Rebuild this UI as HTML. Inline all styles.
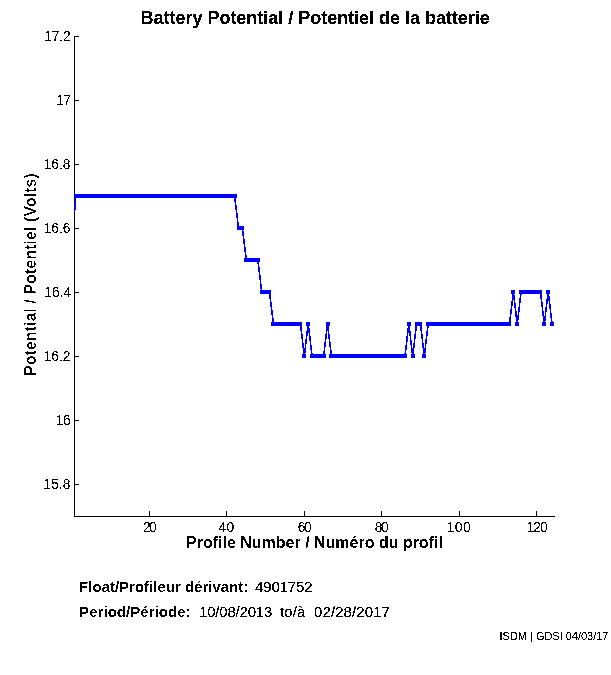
<!DOCTYPE html>
<html lang="en"><head><meta charset="utf-8"><title>Battery Potential / Potentiel de la batterie</title>
<style>
html,body{margin:0;padding:0;background:#fff;}
body{width:611px;height:675px;overflow:hidden;}
svg{display:block;font-family:"Liberation Sans",Arial,Helvetica,sans-serif;fill:#000;}
.b{font-weight:bold;}
.t{font-size:15px;}
.k{font-size:13.8px;}
.f{font-size:11px;}
.l{font-size:16px;font-weight:bold;}
.tt{font-size:18px;font-weight:bold;}
</style></head><body>
<svg width="611" height="675" viewBox="0 0 611 675">
<defs>
<filter id="c40" x="-5%" y="-20%" width="110%" height="140%" color-interpolation-filters="sRGB"><feComponentTransfer><feFuncA type="discrete" tableValues="0 0 0 0 0 0 0 0 1 1 1 1 1 1 1 1 1 1 1 1"/></feComponentTransfer></filter>
<filter id="c45" x="-5%" y="-20%" width="110%" height="140%" color-interpolation-filters="sRGB"><feComponentTransfer><feFuncA type="discrete" tableValues="0 0 0 0 0 0 0 0 0 1 1 1 1 1 1 1 1 1 1 1"/></feComponentTransfer></filter>
<filter id="c50" x="-5%" y="-20%" width="110%" height="140%" color-interpolation-filters="sRGB"><feComponentTransfer><feFuncA type="discrete" tableValues="0 0 0 0 0 0 0 0 0 0 1 1 1 1 1 1 1 1 1 1"/></feComponentTransfer></filter>
<filter id="c60" x="-5%" y="-20%" width="110%" height="140%" color-interpolation-filters="sRGB"><feComponentTransfer><feFuncA type="discrete" tableValues="0 0 0 0 0 0 0 0 0 0 0 0 1 1 1 1 1 1 1 1"/></feComponentTransfer></filter>
</defs>
<rect width="611" height="675" fill="#fff"/>
<text filter="url(#c40)" class="tt" x="140.60" y="23.9" textLength="349.19" lengthAdjust="spacing">Battery Potential / Potentiel de la batterie</text>
<g shape-rendering="crispEdges" fill="#000"><rect x="74" y="36" width="1" height="481"/><rect x="74" y="516" width="481" height="1"/><rect x="75" y="36" width="4" height="1"/><rect x="75" y="100" width="4" height="1"/><rect x="75" y="164" width="4" height="1"/><rect x="75" y="228" width="4" height="1"/><rect x="75" y="292" width="4" height="1"/><rect x="75" y="356" width="4" height="1"/><rect x="75" y="420" width="4" height="1"/><rect x="75" y="484" width="4" height="1"/><rect x="149" y="511" width="1" height="5"/><rect x="226" y="511" width="1" height="5"/><rect x="304" y="511" width="1" height="5"/><rect x="381" y="511" width="1" height="5"/><rect x="459" y="511" width="1" height="5"/><rect x="536" y="511" width="1" height="5"/></g>
<text filter="url(#c45)" class="k" x="44.26" y="41.0" textLength="26.50" lengthAdjust="spacing">17.2</text>
<text filter="url(#c45)" class="k" x="56.27" y="105.0" textLength="14.64" lengthAdjust="spacing">17</text>
<text filter="url(#c45)" class="k" x="43.65" y="169.0" textLength="26.86" lengthAdjust="spacing">16.8</text>
<text filter="url(#c45)" class="k" x="43.65" y="233.0" textLength="26.86" lengthAdjust="spacing">16.6</text>
<text filter="url(#c45)" class="k" x="44.25" y="297.0" textLength="26.86" lengthAdjust="spacing">16.4</text>
<text filter="url(#c45)" class="k" x="43.65" y="361.0" textLength="26.86" lengthAdjust="spacing">16.2</text>
<text filter="url(#c45)" class="k" x="55.63" y="425.0" textLength="15.18" lengthAdjust="spacing">16</text>
<text filter="url(#c45)" class="k" x="43.19" y="489.0" textLength="27.22" lengthAdjust="spacing">15.8</text>
<text filter="url(#c45)" class="k" x="142.99" y="532.0" textLength="13.74" lengthAdjust="spacing">20</text>
<text filter="url(#c45)" class="k" x="218.39" y="532.0" textLength="15.90" lengthAdjust="spacing">40</text>
<text filter="url(#c45)" class="k" x="297.84" y="532.0" textLength="13.74" lengthAdjust="spacing">60</text>
<text filter="url(#c45)" class="k" x="374.85" y="532.0" textLength="13.74" lengthAdjust="spacing">80</text>
<text filter="url(#c45)" class="k" x="446.82" y="532.0" textLength="23.75" lengthAdjust="spacing">100</text>
<text filter="url(#c45)" class="k" x="526.44" y="532.0" textLength="21.23" lengthAdjust="spacing">120</text>
<g shape-rendering="crispEdges"><polyline fill="none" stroke="#0000ff" stroke-width="1.6" stroke-linejoin="miter" points="74.5,212.0 75.9,196.0 79.8,196.0 83.7,196.0 87.5,196.0 91.4,196.0 95.3,196.0 99.2,196.0 103.0,196.0 106.9,196.0 110.8,196.0 114.6,196.0 118.5,196.0 122.4,196.0 126.3,196.0 130.1,196.0 134.0,196.0 137.9,196.0 141.7,196.0 145.6,196.0 149.5,196.0 153.4,196.0 157.2,196.0 161.1,196.0 165.0,196.0 168.8,196.0 172.7,196.0 176.6,196.0 180.5,196.0 184.3,196.0 188.2,196.0 192.1,196.0 195.9,196.0 199.8,196.0 203.7,196.0 207.5,196.0 211.4,196.0 215.3,196.0 219.2,196.0 223.0,196.0 226.9,196.0 230.8,196.0 234.6,196.0 238.5,228.0 242.4,228.0 246.3,260.0 250.1,260.0 254.0,260.0 257.9,260.0 261.7,292.0 265.6,292.0 269.5,292.0 273.4,324.0 277.2,324.0 281.1,324.0 285.0,324.0 288.8,324.0 292.7,324.0 296.6,324.0 300.5,324.0 304.3,356.0 308.2,324.0 312.1,356.0 315.9,356.0 319.8,356.0 323.7,356.0 327.5,324.0 331.4,356.0 335.3,356.0 339.2,356.0 343.0,356.0 346.9,356.0 350.8,356.0 354.6,356.0 358.5,356.0 362.4,356.0 366.3,356.0 370.1,356.0 374.0,356.0 377.9,356.0 381.7,356.0 385.6,356.0 389.5,356.0 393.4,356.0 397.2,356.0 401.1,356.0 405.0,356.0 408.8,324.0 412.7,356.0 416.6,324.0 420.5,324.0 424.3,356.0 428.2,324.0 432.1,324.0 435.9,324.0 439.8,324.0 443.7,324.0 447.5,324.0 451.4,324.0 455.3,324.0 459.2,324.0 463.0,324.0 466.9,324.0 470.8,324.0 474.6,324.0 478.5,324.0 482.4,324.0 486.3,324.0 490.1,324.0 494.0,324.0 497.9,324.0 501.7,324.0 505.6,324.0 509.5,324.0 513.4,292.0 517.2,324.0 521.1,292.0 525.0,292.0 528.8,292.0 532.7,292.0 536.6,292.0 540.5,292.0 544.3,324.0 548.2,292.0 552.1,324.0"/><g fill="#0000ff"><rect x="74" y="194" width="4" height="4"/><rect x="78" y="194" width="4" height="4"/><rect x="82" y="194" width="4" height="4"/><rect x="86" y="194" width="4" height="4"/><rect x="89" y="194" width="4" height="4"/><rect x="93" y="194" width="4" height="4"/><rect x="97" y="194" width="4" height="4"/><rect x="101" y="194" width="4" height="4"/><rect x="105" y="194" width="4" height="4"/><rect x="109" y="194" width="4" height="4"/><rect x="113" y="194" width="4" height="4"/><rect x="117" y="194" width="4" height="4"/><rect x="120" y="194" width="4" height="4"/><rect x="124" y="194" width="4" height="4"/><rect x="128" y="194" width="4" height="4"/><rect x="132" y="194" width="4" height="4"/><rect x="136" y="194" width="4" height="4"/><rect x="140" y="194" width="4" height="4"/><rect x="144" y="194" width="4" height="4"/><rect x="147" y="194" width="4" height="4"/><rect x="151" y="194" width="4" height="4"/><rect x="155" y="194" width="4" height="4"/><rect x="159" y="194" width="4" height="4"/><rect x="163" y="194" width="4" height="4"/><rect x="167" y="194" width="4" height="4"/><rect x="171" y="194" width="4" height="4"/><rect x="175" y="194" width="4" height="4"/><rect x="178" y="194" width="4" height="4"/><rect x="182" y="194" width="4" height="4"/><rect x="186" y="194" width="4" height="4"/><rect x="190" y="194" width="4" height="4"/><rect x="194" y="194" width="4" height="4"/><rect x="198" y="194" width="4" height="4"/><rect x="202" y="194" width="4" height="4"/><rect x="206" y="194" width="4" height="4"/><rect x="209" y="194" width="4" height="4"/><rect x="213" y="194" width="4" height="4"/><rect x="217" y="194" width="4" height="4"/><rect x="221" y="194" width="4" height="4"/><rect x="225" y="194" width="4" height="4"/><rect x="229" y="194" width="4" height="4"/><rect x="233" y="194" width="4" height="4"/><rect x="237" y="226" width="4" height="4"/><rect x="240" y="226" width="4" height="4"/><rect x="244" y="258" width="4" height="4"/><rect x="248" y="258" width="4" height="4"/><rect x="252" y="258" width="4" height="4"/><rect x="256" y="258" width="4" height="4"/><rect x="260" y="290" width="4" height="4"/><rect x="264" y="290" width="4" height="4"/><rect x="267" y="290" width="4" height="4"/><rect x="271" y="322" width="4" height="4"/><rect x="275" y="322" width="4" height="4"/><rect x="279" y="322" width="4" height="4"/><rect x="283" y="322" width="4" height="4"/><rect x="287" y="322" width="4" height="4"/><rect x="291" y="322" width="4" height="4"/><rect x="295" y="322" width="4" height="4"/><rect x="298" y="322" width="4" height="4"/><rect x="302" y="354" width="4" height="4"/><rect x="306" y="322" width="4" height="4"/><rect x="310" y="354" width="4" height="4"/><rect x="314" y="354" width="4" height="4"/><rect x="318" y="354" width="4" height="4"/><rect x="322" y="354" width="4" height="4"/><rect x="326" y="322" width="4" height="4"/><rect x="329" y="354" width="4" height="4"/><rect x="333" y="354" width="4" height="4"/><rect x="337" y="354" width="4" height="4"/><rect x="341" y="354" width="4" height="4"/><rect x="345" y="354" width="4" height="4"/><rect x="349" y="354" width="4" height="4"/><rect x="353" y="354" width="4" height="4"/><rect x="357" y="354" width="4" height="4"/><rect x="360" y="354" width="4" height="4"/><rect x="364" y="354" width="4" height="4"/><rect x="368" y="354" width="4" height="4"/><rect x="372" y="354" width="4" height="4"/><rect x="376" y="354" width="4" height="4"/><rect x="380" y="354" width="4" height="4"/><rect x="384" y="354" width="4" height="4"/><rect x="387" y="354" width="4" height="4"/><rect x="391" y="354" width="4" height="4"/><rect x="395" y="354" width="4" height="4"/><rect x="399" y="354" width="4" height="4"/><rect x="403" y="354" width="4" height="4"/><rect x="407" y="322" width="4" height="4"/><rect x="411" y="354" width="4" height="4"/><rect x="415" y="322" width="4" height="4"/><rect x="418" y="322" width="4" height="4"/><rect x="422" y="354" width="4" height="4"/><rect x="426" y="322" width="4" height="4"/><rect x="430" y="322" width="4" height="4"/><rect x="434" y="322" width="4" height="4"/><rect x="438" y="322" width="4" height="4"/><rect x="442" y="322" width="4" height="4"/><rect x="446" y="322" width="4" height="4"/><rect x="449" y="322" width="4" height="4"/><rect x="453" y="322" width="4" height="4"/><rect x="457" y="322" width="4" height="4"/><rect x="461" y="322" width="4" height="4"/><rect x="465" y="322" width="4" height="4"/><rect x="469" y="322" width="4" height="4"/><rect x="473" y="322" width="4" height="4"/><rect x="477" y="322" width="4" height="4"/><rect x="480" y="322" width="4" height="4"/><rect x="484" y="322" width="4" height="4"/><rect x="488" y="322" width="4" height="4"/><rect x="492" y="322" width="4" height="4"/><rect x="496" y="322" width="4" height="4"/><rect x="500" y="322" width="4" height="4"/><rect x="504" y="322" width="4" height="4"/><rect x="507" y="322" width="4" height="4"/><rect x="511" y="290" width="4" height="4"/><rect x="515" y="322" width="4" height="4"/><rect x="519" y="290" width="4" height="4"/><rect x="523" y="290" width="4" height="4"/><rect x="527" y="290" width="4" height="4"/><rect x="531" y="290" width="4" height="4"/><rect x="535" y="290" width="4" height="4"/><rect x="538" y="290" width="4" height="4"/><rect x="542" y="322" width="4" height="4"/><rect x="546" y="290" width="4" height="4"/><rect x="550" y="322" width="4" height="4"/></g></g>
<text filter="url(#c50)" class="l" x="186.12" y="548.0" textLength="256.73" lengthAdjust="spacing">Profile Number / Numéro du profil</text>
<text filter="url(#c60)" class="l" transform="translate(35.9,274.6) rotate(-90)" text-anchor="middle" textLength="202.7" lengthAdjust="spacing">Potential / Potentiel (Volts)</text>
<text filter="url(#c50)" class="t b" x="79.10" y="591.8" textLength="169.20" lengthAdjust="spacing">Float/Profileur dérivant:</text>
<text filter="url(#c40)" class="t" x="255.02" y="591.8" textLength="57.51" lengthAdjust="spacing">4901752</text>
<text filter="url(#c50)" class="t b" x="79.10" y="616.8" textLength="111.58" lengthAdjust="spacing">Period/Période:</text>
<text filter="url(#c40)" class="t" x="199.06" y="616.8" textLength="73.28" lengthAdjust="spacing">10/08/2013</text>
<text filter="url(#c40)" class="t" x="280.04" y="616.8" textLength="25.39" lengthAdjust="spacing">to/à</text>
<text filter="url(#c40)" class="t" x="314.08" y="616.8" textLength="75.80" lengthAdjust="spacing">02/28/2017</text>
<text filter="url(#c45)" class="f" x="499.56" y="639.8" textLength="108.89" lengthAdjust="spacing">ISDM | GDSI 04/03/17</text>
</svg></body></html>
